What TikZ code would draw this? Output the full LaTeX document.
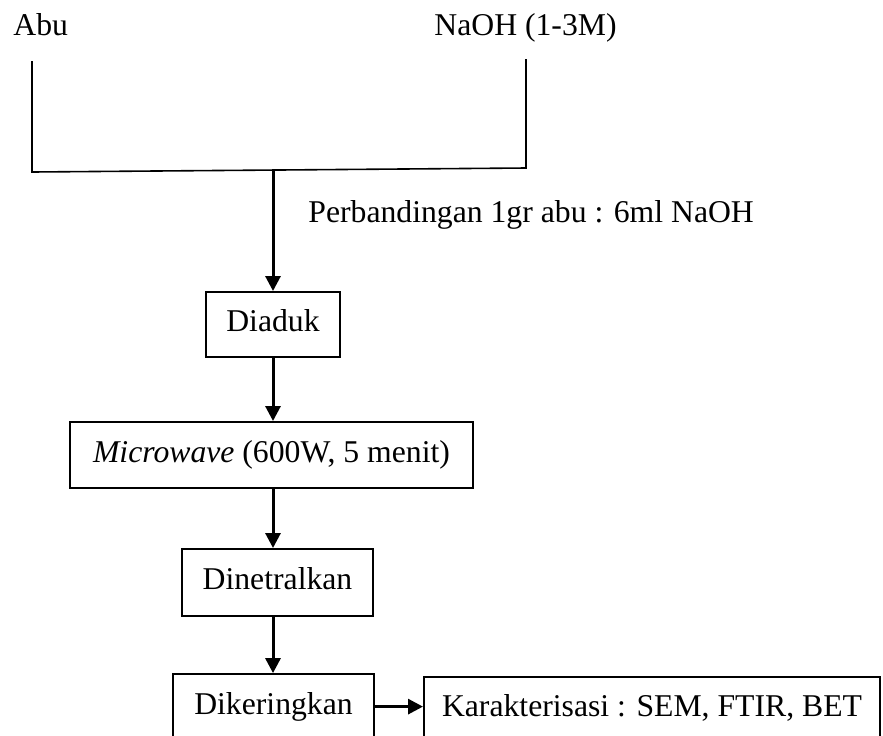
\documentclass[tikz,border=0pt]{standalone}
\usepackage{fontspec}
\setmainfont{Liberation Serif}
\usetikzlibrary{arrows.meta,positioning}

\tikzset{
	kotak/.style={draw,line width=1pt,rectangle,inner sep=0pt,align=center,text height=10.8pt,text depth=3.4pt},
	panah/.style={line width=1.5pt,-{Triangle[length=7.5pt,width=7.5pt]}},
	garis/.style={line width=0.8pt}
}

\begin{document}
\begin{tikzpicture}[x=0.5pt,y=-0.5pt,font=\fontsize{15.85pt}{19pt}\selectfont]
			\useasboundingbox (0,0) rectangle (883,735);
			\clip (0,0) rectangle (883,735);
			
			% Bahan awal
			\node[anchor=base west,inner sep=0pt] (abu) at (13,35) {Abu};
			\node[anchor=base west,inner sep=0pt] (naoh) at (434,35) {NaOH (1-3M)};
			
			% Garis pencampuran
			\coordinate (kiriatas) at (32,61);
			\coordinate (kiribawah) at (32,172);
			\coordinate (kananbawah) at (526,168);
			\coordinate (kananatas) at (526,59);
			\coordinate (tengah) at (273,169);
			\draw[garis] (kiriatas) -- (kiribawah) -- (kananbawah) -- (kananatas);
			
			% Langkah proses
			\node[kotak,minimum width=67pt,minimum height=32.5pt] (diaduk) at (273,324.5) {Diaduk};
			\node[kotak,minimum width=201.5pt,minimum height=33pt] (microwave) at (271.5,455) {\textit{Microwave} (600W, 5 menit)};
			\node[kotak,minimum width=95.5pt,minimum height=33.5pt] (dinetralkan) at (277.5,582.5) {Dinetralkan};
			\node[kotak,minimum width=100.5pt,minimum height=32.5pt] (dikeringkan) at (273.5,706.6) {Dikeringkan};
			\node[kotak,minimum width=228pt,minimum height=31.5pt] (karakter) at (652,708.6) {Karakterisasi : SEM, FTIR, BET};
			
			% Keterangan rasio
			\node[anchor=base west,inner sep=0pt] (rasio) at (308,222) {Perbandingan 1gr abu : 6ml NaOH};
			
			% Panah
			\draw[panah] (tengah) -- (tengah |- diaduk.north);
			\draw[panah] (diaduk.south) -- (diaduk.south |- microwave.north);
			\draw[panah] (microwave.south -| diaduk.south) -- (diaduk.south |- dinetralkan.north);
			\draw[panah] (dinetralkan.south -| diaduk.south) -- (diaduk.south |- dikeringkan.north);
			\draw[panah] (dikeringkan.east) -- (karakter.west |- dikeringkan.east);
		\end{tikzpicture}
\end{document}
